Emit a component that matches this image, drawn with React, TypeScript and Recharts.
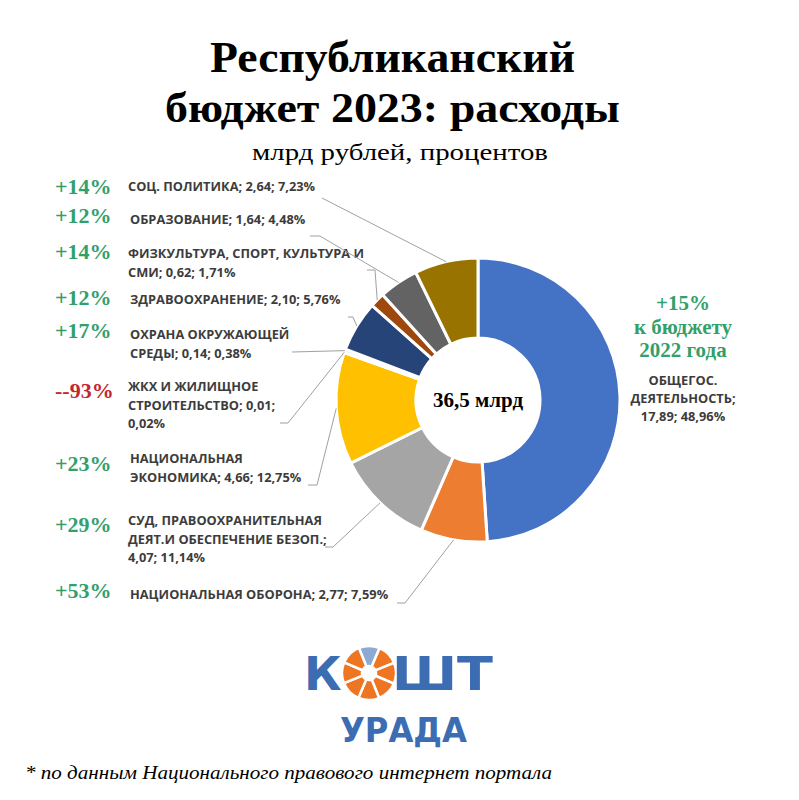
import React from 'react';
import { PieChart, Pie, Cell } from 'recharts';

const categories = [
  'ОБЩЕГОС. ДЕЯТЕЛЬНОСТЬ',
  'НАЦИОНАЛЬНАЯ ОБОРОНА',
  'СУД, ПРАВООХРАНИТЕЛЬНАЯ ДЕЯТ.И ОБЕСПЕЧЕНИЕ БЕЗОП.',
  'НАЦИОНАЛЬНАЯ ЭКОНОМИКА',
  'ЖКХ И ЖИЛИЩНОЕ СТРОИТЕЛЬСТВО',
  'ОХРАНА ОКРУЖАЮЩЕЙ СРЕДЫ',
  'ЗДРАВООХРАНЕНИЕ',
  'ФИЗКУЛЬТУРА, СПОРТ, КУЛЬТУРА И СМИ',
  'ОБРАЗОВАНИЕ',
  'СОЦ. ПОЛИТИКА',
];
const amounts = [17.89, 2.77, 4.07, 4.66, 0.01, 0.14, 2.1, 0.62, 1.64, 2.64];
const shares = [48.96, 7.59, 11.14, 12.75, 0.02, 0.38, 5.76, 1.71, 4.48, 7.23];
const growth = ['+15%', '+53%', '+29%', '+23%', '--93%', '+17%', '+12%', '+14%', '+12%', '+14%'];
const totalLabel = '36,5 млрд';

const COLORS = [
  '#4472c4', '#ed7d31', '#a5a5a5', '#ffc000', '#5b9bd5',
  '#70ad47', '#264478', '#9e480e', '#636363', '#997300',
];

// words per line for each label
const WRAP = [[1, 1, 2], [5], [2, 3, 2], [1, 3], [3, 2, 1], [2, 3], [3], [4, 3], [3], [4]];

// label layout: growth y, text x, first line y, leader start points
const LAYOUT: { gy: number; tx: number; ty: number; lead: [number, number][] }[] = [
  { gy: 303, tx: 683, ty: 380, lead: [] },
  { gy: 590, tx: 130, ty: 594, lead: [[397, 603], [405, 603]] },
  { gy: 524, tx: 128, ty: 520, lead: [[325, 547], [333, 547]] },
  { gy: 463, tx: 130, ty: 458, lead: [[308, 485], [317, 485]] },
  { gy: 390, tx: 128, ty: 386, lead: [[280, 423], [288, 423]] },
  { gy: 330, tx: 130, ty: 334, lead: [[292, 352]] },
  { gy: 297, tx: 130, ty: 299, lead: [[348, 317], [353, 317]] },
  { gy: 251, tx: 128, ty: 253, lead: [[367, 270], [375, 270]] },
  { gy: 215, tx: 130, ty: 219, lead: [[310, 236], [320, 236]] },
  { gy: 186, tx: 128, ty: 186, lead: [[322, 198]] },
];

const fmt = (v: number) => v.toFixed(2).replace('.', ',');

const data = categories.map((name, i) => ({ name, value: amounts[i] }));

const labelLines = (i: number) => {
  const words = `${categories[i]}; ${fmt(amounts[i])}; ${fmt(shares[i])}%`.split(' ');
  const out: string[] = [];
  let k = 0;
  WRAP[i].forEach((n) => {
    out.push(words.slice(k, k + n).join(' '));
    k += n;
  });
  return out;
};

const RADIAN = Math.PI / 180;
const GREEN = '#33a06c';
const RED = '#c4262e';
const TEXT = '#3c3c3c';
const SANS = 'Open Sans, sans-serif';
const SERIF = 'Liberation Serif, Times New Roman, serif';
const LOGO_FONT = 'DejaVu Sans, sans-serif';

const renderLabel = (props: any) => {
  const { cx, cy, midAngle, outerRadius, index } = props;
  const lay = LAYOUT[index];
  const lines = labelLines(index);
  if (index === 0) {
    return (
      <g key="l0">
        {[growth[0], 'к бюджету', '2022 года'].map((t, j) => (
          <text key={j} x={lay.tx} y={lay.gy + j * 23.5} textAnchor="middle" dominantBaseline="central"
            fill={GREEN} style={{ fontFamily: SERIF, fontWeight: 700, fontSize: 21 }}>{t}</text>
        ))}
        {lines.map((t, j) => (
          <text key={'t' + j} x={lay.tx} y={lay.ty + j * 18} textAnchor="middle" dominantBaseline="central"
            fill={TEXT} style={{ fontFamily: SANS, fontWeight: 700, fontSize: 12.8 }}>{t}</text>
        ))}
      </g>
    );
  }
  const px = cx + outerRadius * Math.cos(-midAngle * RADIAN);
  const py = cy + outerRadius * Math.sin(-midAngle * RADIAN);
  const pts = [...lay.lead, [px, py]].map((p) => p.join(',')).join(' ');
  return (
    <g key={'l' + index}>
      <polyline points={pts} fill="none" stroke="#a0a0a0" strokeWidth={1} />
      <text x={55} y={lay.gy} dominantBaseline="central" fill={growth[index].startsWith('-') ? RED : GREEN}
        style={{ fontFamily: SERIF, fontWeight: 700, fontSize: 22 }}>{growth[index]}</text>
      {lines.map((t, j) => (
        <text key={j} x={lay.tx} y={lay.ty + j * 18.5} dominantBaseline="central"
          fill={TEXT} style={{ fontFamily: SANS, fontWeight: 700, fontSize: 12.8 }}>{t}</text>
      ))}
    </g>
  );
};

const logoSegments = [1, 1, 1, 1, 1, 1, 1, 1];
const LOGO_COLORS = ['#8eaad3', '#ee7623', '#ee7623', '#ee7623', '#ee7623', '#ee7623', '#ee7623', '#ee7623'];
const logoData = logoSegments.map((v, i) => ({ name: 's' + i, value: v }));

const NO_MARGIN = { top: 0, right: 0, bottom: 0, left: 0 };

export default function App() {
  return (
    <div style={{ position: 'absolute', left: 0, top: 0, width: 799, height: 800, background: '#fff', overflow: 'hidden' }}>
      <PieChart width={799} height={800} margin={NO_MARGIN} style={{ position: 'absolute', left: 0, top: 0 }}>
        <Pie
          data={data}
          dataKey="value"
          cx={478}
          cy={400}
          innerRadius={62}
          outerRadius={142}
          startAngle={90}
          endAngle={-270}
          stroke="#ffffff"
          strokeWidth={3}
          label={renderLabel}
          labelLine={false}
          isAnimationActive={false}
        >
          {data.map((d, i) => (
            <Cell key={d.name} fill={COLORS[i]} />
          ))}
        </Pie>
      </PieChart>
      <PieChart width={60} height={60} margin={NO_MARGIN} style={{ position: 'absolute', left: 339, top: 643 }}>
        <Pie
          data={logoData}
          dataKey="value"
          cx={30}
          cy={30}
          innerRadius={7}
          outerRadius={27}
          startAngle={112}
          endAngle={-248}
          stroke="#ffffff"
          strokeWidth={2.5}
          isAnimationActive={false}
        >
          {logoData.map((d, i) => (
            <Cell key={d.name} fill={LOGO_COLORS[i]} />
          ))}
        </Pie>
      </PieChart>
      <svg width={799} height={800} style={{ position: 'absolute', left: 0, top: 0, pointerEvents: 'none' }}>
        <text x={210} y={72} textLength={365} lengthAdjust="spacingAndGlyphs" fill="#000"
          style={{ fontFamily: SERIF, fontWeight: 700, fontSize: 44 }}>Республиканский</text>
        <text x={165} y={122} textLength={455} lengthAdjust="spacingAndGlyphs" fill="#000"
          style={{ fontFamily: SERIF, fontWeight: 700, fontSize: 43 }}>бюджет 2023: расходы</text>
        <text x={252} y={160} textLength={296} lengthAdjust="spacingAndGlyphs" fill="#000"
          style={{ fontFamily: SERIF, fontSize: 24 }}>млрд рублей, процентов</text>
        <text x={478} y={400} textAnchor="middle" dominantBaseline="central" fill="#000"
          style={{ fontFamily: SERIF, fontWeight: 700, fontSize: 21 }}>{totalLabel}</text>
        <text x={304} y={690} fill="#3c6db3" style={{ fontFamily: LOGO_FONT, fontWeight: 700, fontSize: 46 }}>К</text>
        <text x={392} y={690} textLength={101} lengthAdjust="spacingAndGlyphs" fill="#3c6db3"
          style={{ fontFamily: LOGO_FONT, fontWeight: 700, fontSize: 46 }}>ШТ</text>
        <text x={340} y={742} textLength={127} lengthAdjust="spacingAndGlyphs" fill="#3c6db3"
          style={{ fontFamily: LOGO_FONT, fontWeight: 700, fontSize: 34 }}>УРАДА</text>
        <text x={25} y={779} textLength={527} lengthAdjust="spacingAndGlyphs" fill="#000"
          style={{ fontFamily: SERIF, fontStyle: 'italic', fontSize: 19 }}>
          * по данным Национального правового интернет портала
        </text>
      </svg>
    </div>
  );
}
